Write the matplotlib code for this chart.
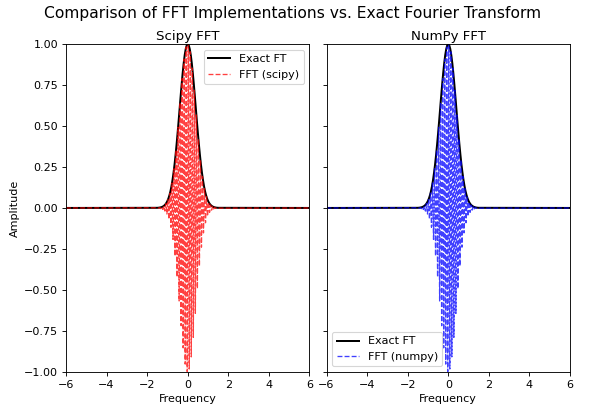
import numpy as np
from matplotlib import pyplot as plt

# frequency grid (half-step offset, dense near 0)
freq_fft = [-6.0,
	-1.475, -1.425, -1.375, -1.325, -1.275, -1.225, -1.175, -1.125, -1.075, -1.025,
	-0.975, -0.925, -0.875, -0.825, -0.775, -0.725, -0.675, -0.625, -0.575, -0.525,
	-0.475, -0.425, -0.375, -0.325, -0.275, -0.225, -0.175, -0.125, -0.075, -0.025,
	0.025, 0.075, 0.125, 0.175, 0.225, 0.275, 0.325, 0.375, 0.425, 0.475,
	0.525, 0.575, 0.625, 0.675, 0.725, 0.775, 0.825, 0.875, 0.925, 0.975,
	1.025, 1.075, 1.125, 1.175, 1.225, 1.275, 1.325, 1.375, 1.425, 1.475,
	6.0]

# real part of the fft output (alternating sign under the gaussian envelope)
amp_fft = [0.0,
	0.0011, -0.0017, 0.0026, -0.0040, 0.0061, -0.0090, 0.0131, -0.0188, 0.0265, -0.0369,
	0.0505, -0.0680, 0.0902, -0.118, 0.152, -0.192, 0.239, -0.293, 0.354, -0.421,
	0.492, -0.567, 0.643, -0.718, 0.789, -0.853, 0.908, -0.952, 0.982, -0.998,
	0.998, -0.982, 0.952, -0.908, 0.853, -0.789, 0.718, -0.643, 0.567, -0.492,
	0.421, -0.354, 0.293, -0.239, 0.192, -0.152, 0.118, -0.0902, 0.0680, -0.0505,
	0.0369, -0.0265, 0.0188, -0.0131, 0.0090, -0.0061, 0.0040, -0.0026, 0.0017, -0.0011,
	0.0]

freq_exact = [-6.0,
	-1.50, -1.45, -1.40, -1.35, -1.30, -1.25, -1.20, -1.15, -1.10, -1.05,
	-1.00, -0.95, -0.90, -0.85, -0.80, -0.75, -0.70, -0.65, -0.60, -0.55,
	-0.50, -0.45, -0.40, -0.35, -0.30, -0.25, -0.20, -0.15, -0.10, -0.05,
	0.00,
	0.05, 0.10, 0.15, 0.20, 0.25, 0.30, 0.35, 0.40, 0.45, 0.50,
	0.55, 0.60, 0.65, 0.70, 0.75, 0.80, 0.85, 0.90, 0.95, 1.00,
	1.05, 1.10, 1.15, 1.20, 1.25, 1.30, 1.35, 1.40, 1.45, 1.50,
	6.0]

amp_exact = [0.0,
	0.0009, 0.0014, 0.0021, 0.0033, 0.0049, 0.0074, 0.0108, 0.0157, 0.0223, 0.0313,
	0.0432, 0.0587, 0.0785, 0.103, 0.134, 0.171, 0.215, 0.265, 0.323, 0.387,
	0.456, 0.529, 0.605, 0.681, 0.754, 0.822, 0.882, 0.932, 0.969, 0.992,
	1.000,
	0.992, 0.969, 0.932, 0.882, 0.822, 0.754, 0.681, 0.605, 0.529, 0.456,
	0.387, 0.323, 0.265, 0.215, 0.171, 0.134, 0.103, 0.0785, 0.0587, 0.0432,
	0.0313, 0.0223, 0.0157, 0.0108, 0.0074, 0.0049, 0.0033, 0.0021, 0.0014, 0.0009,
	0.0]

plt.close('all')
fig,AX = plt.subplots(1, 2, figsize=(7.5,5.1375), dpi=80, sharey=True)
fig.subplots_adjust(left=0.11, right=0.95, bottom=0.095, top=0.893, wspace=0.07)

panels = [('Scipy FFT', 'FFT (scipy)', 'r', 'upper right'),
          ('NumPy FFT', 'FFT (numpy)', 'b', 'lower left')]
for ax,(title,lab,c,loc) in zip(AX, panels):
	ax.plot(freq_exact, amp_exact, 'k-', lw=1.8, label='Exact FT')
	ax.plot(freq_fft, amp_fft, c+'--', lw=1.2, alpha=0.75, label=lab)
	ax.set_xlim(-6, 6)
	ax.set_ylim(-1, 1)
	ax.set_xticks([-6,-4,-2,0,2,4,6])
	ax.set_yticks([-1,-0.75,-0.5,-0.25,0,0.25,0.5,0.75,1])
	ax.set_title(title, pad=4)
	ax.set_xlabel('Frequency')
	ax.legend(loc=loc)
AX[0].set_ylabel('Amplitude')
fig.suptitle('Comparison of FFT Implementations vs. Exact Fourier Transform', fontsize=14, x=0.487, y=0.985)
fig.savefig('out.png')
